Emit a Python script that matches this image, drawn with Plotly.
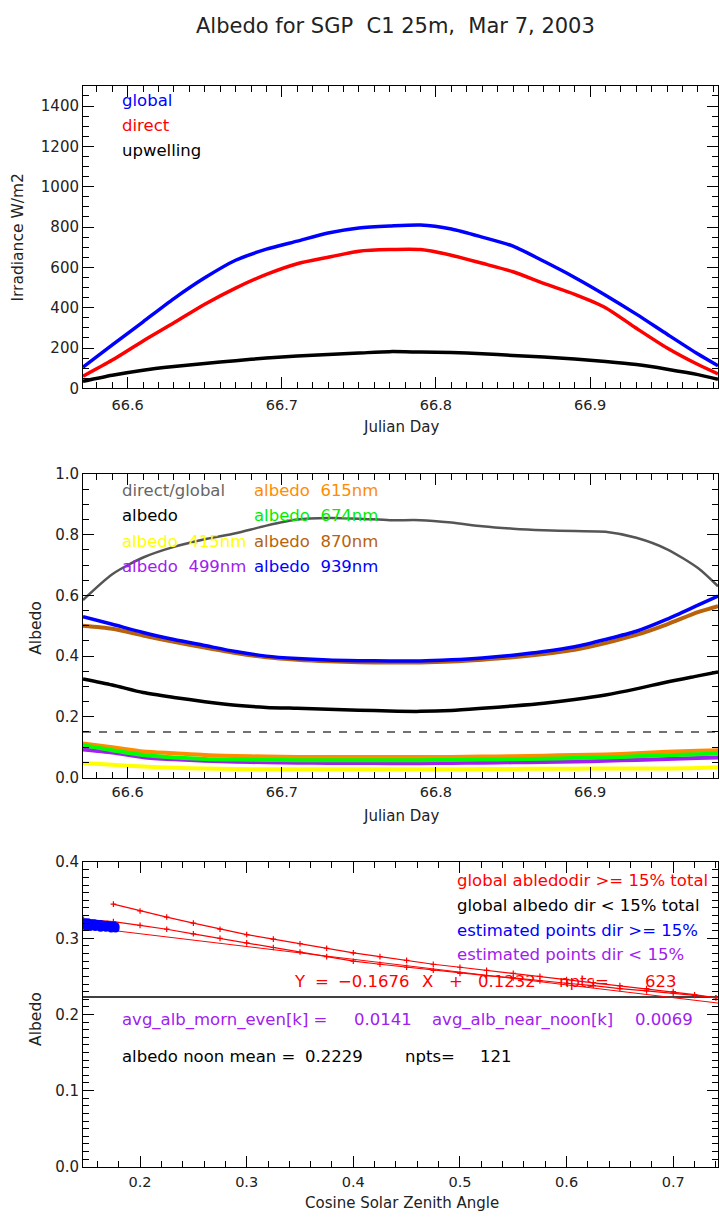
import plotly.graph_objects as go

# ---------------- data ----------------
days = [66.571, 66.59, 66.61, 66.63, 66.65, 66.67, 66.69, 66.71, 66.73, 66.75, 66.77,
        66.79, 66.81, 66.83, 66.85, 66.87, 66.89, 66.91, 66.93, 66.95, 66.97, 66.983]

global_irr = [105, 215, 330, 445, 548, 635, 690, 730, 770, 795, 805,
              810, 790, 750, 705, 630, 550, 462, 368, 268, 170, 112]
direct_irr = [60, 140, 235, 325, 417, 497, 565, 618, 650, 680, 688,
              688, 660, 620, 578, 520, 466, 400, 298, 200, 118, 72]
upwelling_irr = [35, 65, 90, 108, 123, 137, 150, 160, 168, 175, 182,
                 180, 178, 172, 163, 155, 145, 133, 118, 95, 68, 45]

dir_glob = [0.585, 0.67, 0.725, 0.76, 0.785, 0.805, 0.83, 0.85, 0.855, 0.853, 0.848,
            0.848, 0.84, 0.828, 0.82, 0.815, 0.812, 0.81, 0.79, 0.752, 0.69, 0.63]
albedo = [0.325, 0.305, 0.28, 0.264, 0.25, 0.238, 0.231, 0.228, 0.225, 0.222, 0.219,
          0.218, 0.221, 0.228, 0.236, 0.245, 0.257, 0.272, 0.292, 0.315, 0.335, 0.348]
alb415 = [0.048, 0.042, 0.036, 0.032, 0.03, 0.028, 0.027, 0.027, 0.027, 0.027, 0.027,
          0.027, 0.027, 0.028, 0.028, 0.029, 0.029, 0.03, 0.03, 0.03, 0.031, 0.034]
alb499 = [0.092, 0.082, 0.067, 0.06, 0.055, 0.052, 0.05, 0.049, 0.048, 0.048, 0.047,
          0.047, 0.048, 0.049, 0.05, 0.051, 0.053, 0.055, 0.058, 0.061, 0.064, 0.066]
alb615 = [0.112, 0.10, 0.086, 0.08, 0.074, 0.071, 0.069, 0.068, 0.068, 0.068, 0.068,
          0.068, 0.068, 0.069, 0.07, 0.072, 0.074, 0.076, 0.08, 0.085, 0.088, 0.09]
alb674 = [0.106, 0.09, 0.074, 0.066, 0.061, 0.059, 0.058, 0.057, 0.057, 0.057, 0.057,
          0.057, 0.058, 0.059, 0.06, 0.062, 0.064, 0.066, 0.07, 0.073, 0.077, 0.079]
alb870 = [0.50, 0.49, 0.468, 0.447, 0.428, 0.41, 0.396, 0.388, 0.383, 0.38, 0.379,
          0.379, 0.382, 0.388, 0.396, 0.407, 0.421, 0.443, 0.47, 0.505, 0.545, 0.565]
alb939 = [0.53, 0.505, 0.478, 0.455, 0.435, 0.415, 0.40, 0.392, 0.387, 0.385, 0.384,
          0.384, 0.388, 0.394, 0.403, 0.415, 0.431, 0.455, 0.482, 0.522, 0.568, 0.598]
dashed_level = 0.15

# bottom panel
cos_upper = [0.175, 0.20, 0.225, 0.25, 0.275, 0.30, 0.325, 0.35, 0.375, 0.40, 0.425, 0.45,
             0.475, 0.50, 0.525, 0.55, 0.575, 0.60, 0.625, 0.65, 0.675, 0.70, 0.72, 0.74]
alb_upper = [0.345, 0.336, 0.328, 0.320, 0.312, 0.305, 0.299, 0.293, 0.287, 0.281, 0.276, 0.271,
             0.266, 0.262, 0.258, 0.254, 0.250, 0.246, 0.242, 0.238, 0.234, 0.230, 0.226, 0.222]
cos_lower = [0.147, 0.175, 0.20, 0.225, 0.25, 0.275, 0.30, 0.325, 0.35, 0.375, 0.40, 0.425, 0.45,
             0.475, 0.50, 0.525, 0.55, 0.575, 0.60, 0.625, 0.65, 0.675, 0.70, 0.72, 0.74]
alb_lower = [0.325, 0.322, 0.317, 0.312, 0.306, 0.300, 0.294, 0.288, 0.282, 0.276, 0.270, 0.266, 0.262,
             0.258, 0.254, 0.251, 0.248, 0.244, 0.241, 0.238, 0.234, 0.231, 0.228, 0.225, 0.222]
fit_x = [0.147, 0.742]
fit_y = [0.315, 0.215]
est_cos = [0.148, 0.151, 0.154, 0.157, 0.160, 0.163, 0.166, 0.169, 0.172, 0.175, 0.177,
           0.149, 0.153, 0.158, 0.163, 0.168, 0.173, 0.177]
est_alb = [0.321, 0.321, 0.320, 0.320, 0.319, 0.319, 0.318, 0.318, 0.317, 0.317, 0.316,
           0.316, 0.315, 0.315, 0.314, 0.314, 0.313, 0.313]
noon_mean = 0.2229
cos_range = [0.1465, 0.742]

# ---------------- helpers ----------------
W, H = 720, 1222
def px(x):
    return x / W
def py(y):
    return 1 - y / H

FONT = "DejaVu Sans"
TS = 16.5  # annotation text size
fig = go.Figure()

# top panel
for vals, col in [(global_irr, "#0000ff"), (direct_irr, "#ff0000"), (upwelling_irr, "#000000")]:
    fig.add_trace(go.Scatter(x=days, y=vals, mode="lines",
                             line=dict(color=col, width=3.5, shape="spline", smoothing=0.7),
                             xaxis="x", yaxis="y", showlegend=False))

# middle panel
mid = [(dir_glob, "#555555", 2.5), (albedo, "#000000", 3.5), (alb415, "#ffff00", 4),
       (alb499, "#a020f0", 4), (alb615, "#ff8c00", 4), (alb674, "#00ff00", 4),
       (alb870, "#b8620b", 4), (alb939, "#0000ff", 3.5)]
for vals, col, w in mid:
    fig.add_trace(go.Scatter(x=days, y=vals, mode="lines",
                             line=dict(color=col, width=w, shape="spline", smoothing=0.7),
                             xaxis="x2", yaxis="y2", showlegend=False))
fig.add_trace(go.Scatter(x=[days[0], days[-1]], y=[dashed_level, dashed_level], mode="lines",
                         line=dict(color="#444444", width=1.5, dash="8px,8px"),
                         xaxis="x2", yaxis="y2", showlegend=False))

# bottom panel
fig.add_trace(go.Scatter(x=cos_range, y=[noon_mean, noon_mean], mode="lines",
                         line=dict(color="black", width=1.5), xaxis="x3", yaxis="y3", showlegend=False))
fig.add_trace(go.Scatter(x=fit_x, y=fit_y, mode="lines", line=dict(color="red", width=1),
                         xaxis="x3", yaxis="y3", showlegend=False))
for cx, cy in [(cos_upper, alb_upper), (cos_lower, alb_lower)]:
    fig.add_trace(go.Scatter(x=cx, y=cy, mode="lines+markers",
                             line=dict(color="red", width=1.2),
                             marker=dict(symbol="cross-thin", size=4, color="red",
                                         line=dict(color="red", width=1.2)),
                             xaxis="x3", yaxis="y3", showlegend=False))
fig.add_trace(go.Scatter(x=est_cos, y=est_alb, mode="markers",
                         marker=dict(symbol="circle", size=8, color="#0000ff"),
                         xaxis="x3", yaxis="y3", showlegend=False))

# ---------------- axes ----------------
def axis(domain, rng, dtick, minor_dtick, anchor, fmt, standoff=0, fsize=15):
    d = dict(domain=domain, range=rng, dtick=dtick, tick0=0, tickformat=fmt,
             showline=True, linecolor="black", linewidth=1, mirror="allticks",
             ticks="inside", ticklen=11, tickwidth=1, tickcolor="black",
             minor=dict(ticks="inside", ticklen=6, dtick=minor_dtick, tickcolor="black", tick0=0),
             showgrid=False, zeroline=False, anchor=anchor,
             tickfont=dict(family=FONT, size=fsize, color="#222"))
    if standoff:
        d["ticklabelstandoff"] = standoff
    return d

xdom = [px(83), px(718)]
fig.update_layout(
    width=W, height=H, margin=dict(l=0, r=0, t=0, b=0),
    paper_bgcolor="white", plot_bgcolor="white", showlegend=False,
    xaxis=axis(xdom, [66.571, 66.983], 0.1, 0.01, "y", ".1f", 3, 14.5),
    yaxis=axis([py(385), py(78)], [0, 1500], 200, 50, "x", "d"),
    xaxis2=axis(xdom, [66.571, 66.983], 0.1, 0.01, "y2", ".1f", 1, 14.5),
    yaxis2=axis([py(780), py(472)], [0, 1.0], 0.2, 0.05, "x2", ".1f"),
    xaxis3=axis(xdom, cos_range, 0.1, 0.02, "y3", ".1f", 2, 14.5),
    yaxis3=axis([py(1175), py(866)], [0, 0.4], 0.1, 0.01, "x3", ".1f"),
)

ann = []
def txt(text, x, y, color="#222", size=TS, anchor="left", angle=0):
    ann.append(dict(text=text, x=px(x), y=py(y), xref="paper", yref="paper",
                    xanchor=anchor, yanchor="middle", showarrow=False, textangle=angle,
                    font=dict(family=FONT, size=size, color=color)))

S = "\u00a0"
txt("Albedo for SGP" + S * 2 + "C1 25m," + S * 2 + "Mar 7, 2003", 395, 17, size=21, anchor="center")
# axis titles
txt("Irradiance W/m2", 18, 232, anchor="center", angle=-90, size=15.5)
txt("Julian Day", 401, 424, anchor="center", size=15)
txt("Albedo", 36, 628, anchor="center", angle=-90, size=15.5)
txt("Julian Day", 401, 819, anchor="center", size=15)
txt("Albedo", 36, 1025, anchor="center", angle=-90, size=15.5)
txt("Cosine Solar Zenith Angle", 402, 1212, anchor="center", size=15)

# top legend
txt("global", 120, 93, "#0000ff")
txt("direct", 120, 118, "#ff0000")
txt("upwelling", 120, 144, "#000000")

# middle legend
txt("direct/global", 120, 489, "#666666")
txt("albedo", 120, 514, "#000000")
txt("albedo" + S * 2 + "415nm", 120, 540, "#ffff00")
txt("albedo" + S * 2 + "499nm", 120, 566, "#a020f0")
txt("albedo" + S * 2 + "615nm", 252, 489, "#ff8c00")
txt("albedo" + S * 2 + "674nm", 252, 514, "#00ee00")
txt("albedo" + S * 2 + "870nm", 252, 540, "#b8620b")
txt("albedo" + S * 2 + "939nm", 252, 566, "#0000ff")

# bottom texts
txt("global abledodir >=" + S + "15% total", 455, 885, "#ff0000")
txt("global albedo dir <" + S + "15% total", 455, 910, "#000000")
txt("estimated points dir >=" + S + "15%", 455, 935, "#0000ff")
txt("estimated points dir <" + S + "15%", 455, 960, "#a020f0")

txt("Y", 292, 987, "#ff0000")
txt("=", 313, 987, "#ff0000")
txt("\u22120.1676", 336, 987, "#ff0000")
txt("X", 420, 987, "#ff0000")
txt("+", 447, 987, "#ff0000")
txt("0.1232", 476, 987, "#ff0000")
txt("npts=", 557, 987, "#ff0000")
txt("623", 643, 987, "#ff0000")

txt("avg_alb_morn_even[k] =", 120, 1026, "#a020f0")
txt("0.0141", 352, 1026, "#a020f0")
txt("avg_alb_near_noon[k]", 430, 1026, "#a020f0")
txt("0.0069", 633, 1026, "#a020f0")

txt("albedo noon mean =", 120, 1063, "#000000")
txt("0.2229", 303, 1063, "#000000")
txt("npts=", 403, 1063, "#000000")
txt("121", 478, 1063, "#000000")

fig.update_layout(annotations=ann)
fig.write_html("out.html")
